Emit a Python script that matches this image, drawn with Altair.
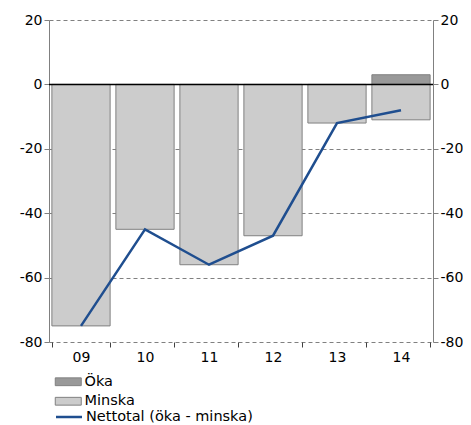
import altair as alt
import pandas as pd

years = ["09", "10", "11", "12", "13", "14"]
minska = [-75, -45, -56, -47, -12, -11]
oka = [0, 0, 0, 0, 0, 3]
netto = [-75, -45, -56, -47, -12, -8]

bar_rows = []
for y, o, m in zip(years, oka, minska):
    if o != 0:
        bar_rows.append({"year": y, "series": "Öka", "value": o})
    bar_rows.append({"year": y, "series": "Minska", "value": m})
bars_df = pd.DataFrame(bar_rows)
line_df = pd.DataFrame({"year": years, "value": netto, "series": "Nettotal (öka - minska)"})
zero_df = pd.DataFrame({"value": [0]})

FONT = "DejaVu Sans"
AX_FS = 14
LG_FS = 14.5
ticks = [-80, -60, -40, -20, 0, 20]
ydom = [-80, 20]
LBL = "'' + datum.value"

xenc = alt.X("year:N", sort=years,
             scale=alt.Scale(paddingInner=0.09, paddingOuter=0.045),
             axis=alt.Axis(title=None, labelAngle=0, domain=False, grid=False,
                           tickBand="extent", tickSize=5, tickColor="#404040",
                           labelFont=FONT, labelFontSize=AX_FS, labelColor="black",
                           labelPadding=3))

bars = alt.Chart(bars_df).mark_bar(stroke="#808080", strokeWidth=1).encode(
    x=xenc,
    y=alt.Y("value:Q", stack="zero", scale=alt.Scale(domain=ydom, nice=False, zero=False),
            axis=alt.Axis(title=None, values=ticks, orient="left", grid=True,
                          gridColor="#808080", gridDash=[4, 3], gridWidth=1,
                          domainColor="#808080", tickColor="#808080", tickSize=5,
                          labelExpr=LBL,
                          labelFont=FONT, labelFontSize=AX_FS, labelColor="black")),
    fill=alt.Fill("series:N",
                  scale=alt.Scale(domain=["Öka", "Minska"], range=["#999999", "#cccccc"]),
                  legend=alt.Legend(title=None, orient="none", legendX=12, legendY=354.5,
                                    symbolType="M-2,-0.6H2V0.6H-2Z", symbolSize=169,
                                    symbolStrokeColor="#808080", symbolStrokeWidth=1,
                                    symbolOpacity=1, labelFont=FONT, labelFontSize=LG_FS,
                                    labelColor="black", labelOffset=9, rowPadding=4.5,
                                    labelLimit=400, padding=0)),
    order=alt.Order("series:N", sort="descending"),
)

zero = alt.Chart(zero_df).mark_rule(color="black", strokeWidth=1.5).encode(
    y=alt.Y("value:Q", scale=alt.Scale(domain=ydom, nice=False, zero=False), axis=None)
)

line = alt.Chart(line_df).mark_line(strokeWidth=2.5).encode(
    x=alt.X("year:N", sort=years),
    y=alt.Y("value:Q", scale=alt.Scale(domain=ydom, nice=False, zero=False),
            axis=alt.Axis(title=None, values=ticks, orient="right", grid=False,
                          domainColor="#808080", tickColor="#808080", tickSize=5,
                          labelExpr=LBL,
                          labelFont=FONT, labelFontSize=AX_FS, labelColor="black")),
    stroke=alt.Stroke("series:N",
                      scale=alt.Scale(domain=["Nettotal (öka - minska)"], range=["#1f4e8f"]),
                      legend=alt.Legend(title=None, orient="none", legendX=12, legendY=389,
                                        symbolType="M-2,0H2", symbolSize=169,
                                        symbolStrokeWidth=2.5, labelFont=FONT,
                                        labelFontSize=LG_FS, labelColor="black", labelOffset=9,
                                        labelLimit=400, padding=0)),
)

chart = alt.layer(bars, zero, line).resolve_scale(y="independent").properties(
    width=384, height=322, padding={"left": 11, "top": 5, "right": 0, "bottom": 0}
).configure_view(stroke=None)

chart.save("out.html", embed_options={"renderer": "svg", "actions": False})
